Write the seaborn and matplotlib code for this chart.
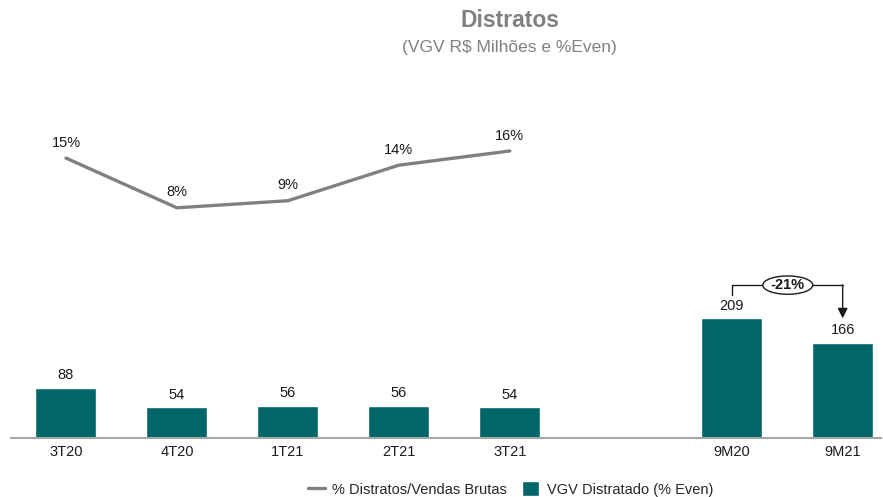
import pandas as pd
import matplotlib
matplotlib.use("Agg")
import matplotlib.pyplot as plt
import seaborn as sns
from matplotlib.patches import Ellipse

# Data
periods = ["3T20", "4T20", "1T21", "2T21", "3T21", "9M20", "9M21"]
positions = [0, 1, 2, 3, 4, 6, 7]
vgv_distratado = [88, 54, 56, 56, 54, 209, 166]
pct_periods = ["3T20", "4T20", "1T21", "2T21", "3T21"]
pct_distratos = [15, 8, 9, 14, 16]
change_label = "-21%"

bar_color = "#00666a"
line_color = "#808080"
txt = "#1a1a1a"

sns.set_theme(style="white")
plt.rcParams['font.family'] = ['Liberation Sans', 'DejaVu Sans']

fig = plt.figure(figsize=(8.83, 4.97), dpi=100)
ax = fig.add_axes([0.0119, 0.1187, 0.9864, 0.7605])

bars_df = pd.DataFrame({"pos": positions, "vgv": vgv_distratado, "period": periods})
sns.barplot(data=bars_df, x="pos", y="vgv", native_scale=True, width=0.55,
            color=bar_color, saturation=1, ax=ax, label="VGV Distratado (% Even)")
if ax.get_legend() is not None:
    ax.get_legend().remove()
ax.set_xlim(-0.5, 7.35)
ax.set_ylim(0, 660)

for p, v in zip(positions, vgv_distratado):
    ax.annotate(str(v), (p, v), xytext=(0, 4), textcoords="offset points",
                ha="center", va="bottom", fontsize=10.5, color=txt)

ax.set_xticks(positions)
ax.set_xticklabels(periods, fontsize=10.5, color=txt)
ax.tick_params(axis="x", length=0, pad=5)
ax.set_yticks([])
ax.set_xlabel("")
ax.set_ylabel("")
for s in ["top", "left", "right"]:
    ax.spines[s].set_visible(False)
ax.spines["bottom"].set_color("#a6a6a6")
ax.spines["bottom"].set_linewidth(1.5)

# percentage line on twin axis
ax2 = ax.twinx()
line_df = pd.DataFrame({"pos": positions[:5], "pct": pct_distratos})
sns.lineplot(data=line_df, x="pos", y="pct", color=line_color, linewidth=2.4,
             ax=ax2, label="% Distratos/Vendas Brutas", legend=False)
ax2.set_ylim(-24.4, 28.8)
ax2.set_yticks([])
ax2.set_ylabel("")
ax2.set_xlim(-0.5, 7.35)
for s in ["top", "left", "right", "bottom"]:
    ax2.spines[s].set_visible(False)
for p, v in zip(positions[:5], pct_distratos):
    ax2.annotate(f"{v}%", (p, v), xytext=(0, 6), textcoords="offset points",
                 ha="center", va="bottom", fontsize=10.5, color=txt)

# change bracket between 9M20 and 9M21
x0, x1 = positions[5], positions[6]
yb = 267
ax.plot([x0, x0, x1], [250, yb, yb], color=txt, lw=1)
ax.annotate("", xy=(x1, 209), xytext=(x1, yb + 0.5),
            arrowprops=dict(arrowstyle="-|>", color=txt, lw=1, mutation_scale=15,
                            shrinkA=0, shrinkB=0))
xm = (x0 + x1) / 2 + 0.005
ax.add_patch(Ellipse((xm, yb), width=0.45, height=32, facecolor="white",
                     edgecolor=txt, lw=1, zorder=5))
ax.text(xm, yb, change_label, ha="center", va="center", fontsize=10.5,
        fontweight="bold", color=txt, zorder=6)

# titles
fig.text(0.578, 0.958, "Distratos", ha="center", va="center", fontsize=16.5,
         fontweight="bold", color="#808080")
fig.text(0.577, 0.905, "(VGV R$ Milhões e %Even)", ha="center", va="center",
         fontsize=12.5, color="#808080")

# legend
h1, l1 = ax2.get_legend_handles_labels()
h2, l2 = ax.get_legend_handles_labels()
fig.legend(h1 + h2, l1 + l2, loc="center", bbox_to_anchor=(0.578, 0.016), ncol=2,
           frameon=False, fontsize=10.5, handlelength=1.2, handleheight=1.2,
           columnspacing=1.0, handletextpad=0.5)

fig.savefig("out.png", dpi=100)
